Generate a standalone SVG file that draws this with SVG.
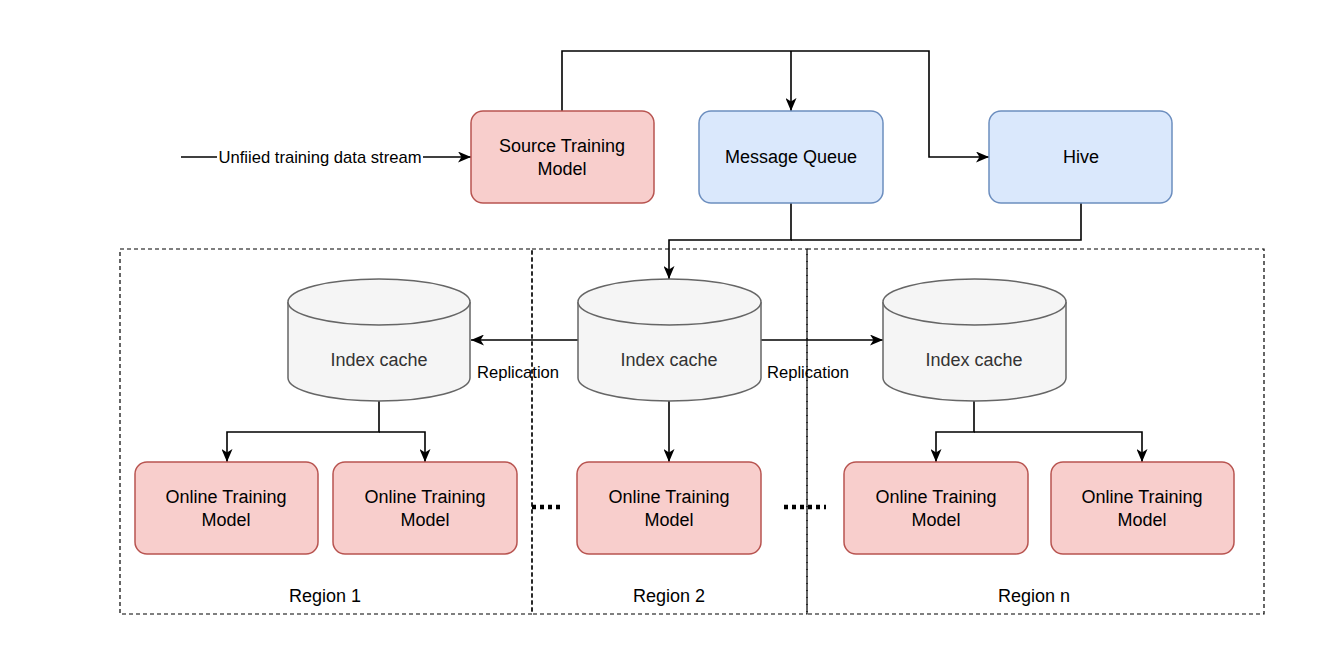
<svg xmlns="http://www.w3.org/2000/svg" width="1326" height="646" viewBox="0 0 1326 646">
<style>
.red{fill:#f8cecc;stroke:#b85450;stroke-width:1.5}
.blue{fill:#dae8fc;stroke:#6c8ebf;stroke-width:1.5}
.cyl{fill:#f5f5f5;stroke:#666666;stroke-width:1.5}
.region{fill:none;stroke:#000;stroke-width:1.2;stroke-dasharray:4 3}
.edge{fill:none;stroke:#000;stroke-width:1.6}
.dots{fill:none;stroke:#000;stroke-width:4.5;stroke-dasharray:4 4}
text{font-family:"Liberation Sans",Arial,sans-serif;text-anchor:middle}
.t{font-size:18px;fill:#000}
.tc{font-size:18px;fill:#333333}
.lbl{font-size:16.6px;fill:#000}
</style>
<defs>
<marker id="arr" markerUnits="userSpaceOnUse" viewBox="0 0 13 11" markerWidth="13" markerHeight="11" refX="13" refY="5.5" orient="auto">
<path d="M0,0 L13,5.5 L0,11 L3.5,5.5 Z" fill="#000"/>
</marker>
</defs>

<g id="regions">
<rect id="region1" class="region" x="120" y="249" width="412" height="365"/>
<rect id="region2" class="region" x="532" y="249" width="275" height="365"/>
<rect id="regionn" class="region" x="807" y="249" width="457" height="365"/>
<text class="t" x="325" y="602">Region 1</text>
<text class="t" x="669" y="602">Region 2</text>
<text class="t" x="1034" y="602">Region n</text>
</g>

<g id="connectors">
<line class="edge" x1="181" y1="157" x2="471" y2="157" marker-end="url(#arr)"/>
<rect x="217" y="147" width="206" height="20" fill="#fff"/>
<text class="lbl" x="320" y="163">Unfiied training data stream</text>
<polyline class="edge" points="562,111 562,51 929,51 929,157 989,157" marker-end="url(#arr)"/>
<polyline class="edge" points="791,51 791,111" marker-end="url(#arr)"/>
<polyline class="edge" points="791,203 791,240 669,240 669,279" marker-end="url(#arr)"/>
<polyline class="edge" points="1081,203 1081,240 791,240"/>
<line class="edge" x1="578" y1="340" x2="471" y2="340" marker-end="url(#arr)"/>
<text class="lbl" x="518" y="378">Replication</text>
<line class="edge" x1="761" y1="340" x2="883" y2="340" marker-end="url(#arr)"/>
<text class="lbl" x="808" y="378">Replication</text>
<polyline class="edge" points="379,401 379,432 227,432 227,462" marker-end="url(#arr)"/>
<polyline class="edge" points="379,432 425,432 425,462" marker-end="url(#arr)"/>
<line class="edge" x1="669" y1="401" x2="669" y2="462" marker-end="url(#arr)"/>
<polyline class="edge" points="974,401 974,432 936,432 936,462" marker-end="url(#arr)"/>
<polyline class="edge" points="974,432 1142,432 1142,462" marker-end="url(#arr)"/>
<line class="dots" x1="532" y1="507" x2="564" y2="507"/>
<line class="dots" x1="784" y1="507" x2="826" y2="507"/>
</g>

<g id="source">
<rect class="red" x="471" y="111" width="183" height="92" rx="12"/>
<text class="t" x="562" y="152">Source Training</text>
<text class="t" x="562" y="175">Model</text>
</g>
<g id="mq">
<rect class="blue" x="699" y="111" width="184" height="92" rx="12"/>
<text class="t" x="791" y="163">Message Queue</text>
</g>
<g id="hive">
<rect class="blue" x="989" y="111" width="183" height="92" rx="12"/>
<text class="t" x="1081" y="163">Hive</text>
</g>

<g id="cache1">
<path class="cyl" d="M288,302 A91,23 0 0 1 470,302 L470,378 A91,23 0 0 1 288,378 Z"/>
<path class="cyl" fill="none" d="M288,302 A91,23 0 0 0 470,302"/>
<text class="tc" x="379" y="366">Index cache</text>
</g>
<g id="cache2">
<path class="cyl" d="M578,302 A91.5,23 0 0 1 761,302 L761,378 A91.5,23 0 0 1 578,378 Z"/>
<path class="cyl" fill="none" d="M578,302 A91.5,23 0 0 0 761,302"/>
<text class="tc" x="669" y="366">Index cache</text>
</g>
<g id="cachen">
<path class="cyl" d="M883,302 A91.5,23 0 0 1 1066,302 L1066,378 A91.5,23 0 0 1 883,378 Z"/>
<path class="cyl" fill="none" d="M883,302 A91.5,23 0 0 0 1066,302"/>
<text class="tc" x="974" y="366">Index cache</text>
</g>

<g id="online1a">
<rect class="red" x="135" y="462" width="183" height="92" rx="12"/>
<text class="t" x="226" y="503">Online Training</text>
<text class="t" x="226" y="526">Model</text>
</g>
<g id="online1b">
<rect class="red" x="333" y="462" width="184" height="92" rx="12"/>
<text class="t" x="425" y="503">Online Training</text>
<text class="t" x="425" y="526">Model</text>
</g>
<g id="online2">
<rect class="red" x="577" y="462" width="184" height="92" rx="12"/>
<text class="t" x="669" y="503">Online Training</text>
<text class="t" x="669" y="526">Model</text>
</g>
<g id="onlinena">
<rect class="red" x="844" y="462" width="184" height="92" rx="12"/>
<text class="t" x="936" y="503">Online Training</text>
<text class="t" x="936" y="526">Model</text>
</g>
<g id="onlinenb">
<rect class="red" x="1051" y="462" width="183" height="92" rx="12"/>
<text class="t" x="1142" y="503">Online Training</text>
<text class="t" x="1142" y="526">Model</text>
</g>
</svg>
